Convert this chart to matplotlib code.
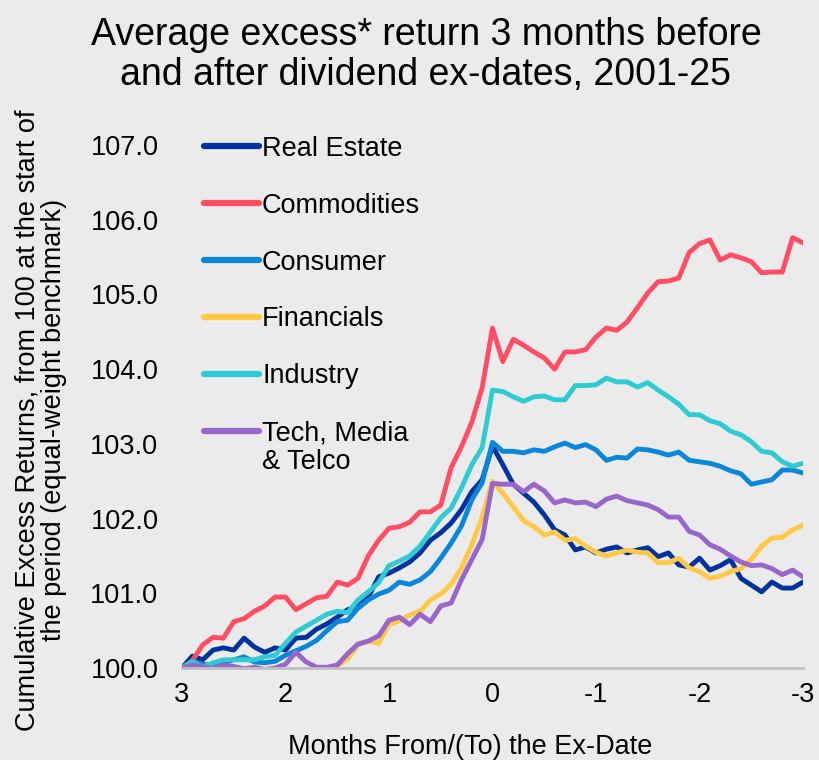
import numpy as np
import matplotlib
matplotlib.use("Agg")
import matplotlib.pyplot as plt

plt.rcParams['font.family'] = ['Liberation Sans', 'DejaVu Sans']

months = np.linspace(3, -3, 61)

real_estate = [100.0, 100.16, 100.11, 100.24, 100.27, 100.24, 100.40, 100.28, 100.21, 100.27,
               100.24, 100.40, 100.41, 100.52, 100.59, 100.68, 100.78, 100.82, 100.95, 101.22,
               101.27, 101.34, 101.42, 101.54, 101.71, 101.81, 101.94, 102.12, 102.36, 102.52,
               102.97,
               102.72, 102.46, 102.34, 102.22, 102.05, 101.85, 101.78, 101.58, 101.62, 101.54,
               101.59, 101.62, 101.54, 101.58, 101.61, 101.49, 101.54, 101.38, 101.35, 101.47,
               101.31, 101.37, 101.45, 101.20, 101.11, 101.02, 101.15, 101.07, 101.07, 101.15]

commodities = [100.0, 100.10, 100.31, 100.41, 100.40, 100.62, 100.66, 100.76, 100.83, 100.95,
               100.95, 100.78, 100.86, 100.94, 100.96, 101.15, 101.11, 101.20, 101.50, 101.71,
               101.87, 101.89, 101.95, 102.09, 102.09, 102.18, 102.68, 102.96, 103.29, 103.75,
               104.55,
               104.10, 104.40, 104.32, 104.23, 104.15, 104.00, 104.23, 104.23, 104.26, 104.43,
               104.55, 104.52, 104.63, 104.82, 105.02, 105.17, 105.18, 105.22, 105.56, 105.68,
               105.73, 105.46, 105.53, 105.49, 105.44, 105.29, 105.30, 105.30, 105.76, 105.69]

consumer = [100.0, 100.09, 100.05, 100.04, 100.07, 100.11, 100.15, 100.08, 100.07, 100.09,
            100.17, 100.23, 100.29, 100.37, 100.50, 100.62, 100.64, 100.80, 100.91, 100.99,
            101.04, 101.15, 101.12, 101.18, 101.29, 101.47, 101.67, 101.90, 102.25, 102.48,
            103.02,
            102.90, 102.90, 102.88, 102.92, 102.90, 102.96, 103.01, 102.95, 102.99, 102.92,
            102.78, 102.82, 102.81, 102.93, 102.92, 102.89, 102.85, 102.89, 102.78, 102.76,
            102.74, 102.70, 102.64, 102.60, 102.46, 102.49, 102.52, 102.65, 102.65, 102.61]

financials = [100.0, 99.98, 99.97, 100.0, 99.97, 99.96, 99.98, 99.96, 99.95, 99.97,
              99.96, 99.98, 99.95, 99.97, 100.0, 100.03, 100.12, 100.31, 100.36, 100.33,
              100.58, 100.63, 100.71, 100.76, 100.91, 100.99, 101.12, 101.34, 101.65, 102.02,
              102.50,
              102.34, 102.16, 101.97, 101.89, 101.78, 101.82, 101.71, 101.73, 101.63, 101.55,
              101.50, 101.54, 101.58, 101.55, 101.54, 101.41, 101.41, 101.47, 101.34, 101.29,
              101.20, 101.23, 101.29, 101.33, 101.45, 101.63, 101.74, 101.75, 101.85, 101.91]

industry = [100.0, 100.09, 100.01, 100.07, 100.11, 100.11, 100.11, 100.11, 100.15, 100.17,
            100.33, 100.48, 100.56, 100.64, 100.72, 100.76, 100.74, 100.91, 101.02, 101.14,
            101.37, 101.43, 101.50, 101.63, 101.82, 102.01, 102.14, 102.41, 102.72, 102.95,
            103.72,
            103.70, 103.63, 103.57, 103.63, 103.64, 103.59, 103.59, 103.78, 103.78, 103.79,
            103.88, 103.83, 103.83, 103.76, 103.82, 103.72, 103.63, 103.53, 103.39, 103.39,
            103.31, 103.27, 103.17, 103.12, 103.03, 102.90, 102.88, 102.76, 102.70, 102.74]

tech = [100.0, 100.04, 100.02, 99.99, 100.04, 100.02, 99.99, 100.01, 99.98, 100.0,
        100.05, 100.21, 100.08, 100.01, 100.01, 100.04, 100.19, 100.32, 100.36, 100.43,
        100.64, 100.68, 100.58, 100.72, 100.62, 100.83, 100.87, 101.18, 101.45, 101.72,
        102.47,
        102.46, 102.46, 102.36, 102.46, 102.37, 102.21, 102.25, 102.21, 102.22, 102.16,
        102.26, 102.30, 102.24, 102.21, 102.18, 102.12, 102.02, 102.02, 101.83, 101.78,
        101.65, 101.59, 101.50, 101.42, 101.37, 101.38, 101.33, 101.25, 101.31, 101.22]

labels = ["Real Estate", "Commodities", "Consumer", "Financials", "Industry", "Tech, Media"]
label_extra = "& Telco"
colors = ["#0033A0", "#FF4D64", "#0A87D8", "#FFC845", "#2ECBD3", "#9966CC"]
series = [real_estate, commodities, consumer, financials, industry, tech]

x_ticks = [3, 2, 1, 0, -1, -2, -3]
x_tick_labels = ["3", "2", "1", "0", "-1", "-2", "-3"]
y_ticks = [100, 101, 102, 103, 104, 105, 106, 107]

bg = "#EBEBEB"
fig = plt.figure(figsize=(8.19, 7.60), dpi=100, facecolor=bg)
ax = fig.add_axes([182/819, 92/760, (803-182)/819, (668-145)/760])
ax.set_facecolor(bg)

for vals, lab, col in zip(series, labels, colors):
    ax.plot(months, vals, color=col, lw=3.5, label=lab, solid_joinstyle='round', solid_capstyle='round')

ax.set_xlim(3, -3)
ax.set_ylim(100, 107)
ax.set_xticks(x_ticks)
ax.set_xticklabels(x_tick_labels)
ax.set_yticks(y_ticks)
ax.set_yticklabels([f"{v:.1f}" for v in y_ticks])
ax.tick_params(axis='both', length=0, labelsize=19.5, colors='#000000')
ax.tick_params(axis='y', pad=17)
ax.tick_params(axis='x', pad=10)

for s in ['top', 'right', 'left']:
    ax.spines[s].set_visible(False)
ax.spines['bottom'].set_color('#BFBFBF')
ax.spines['bottom'].set_linewidth(2)

ax.set_xlabel("Months From/(To) the Ex-Date", fontsize=19.5)
ax.xaxis.set_label_coords((470-182)/621, -(734-668)/523, transform=ax.transAxes)
ax.set_ylabel("Cumulative Excess Returns, from 100 at the start of\nthe period (equal-weight benchmark)",
              fontsize=19.5, linespacing=1.0)
ax.yaxis.set_label_coords(-(182-67)/621, (668-420)/523, transform=ax.transAxes)

fig.suptitle("Average excess* return 3 months before\nand after dividend ex-dates, 2001-25",
             fontsize=27, x=0.52, y=0.978, linespacing=1.15)

leg = ax.legend(loc='upper left', bbox_to_anchor=(193/819, 1 - 125/760), bbox_transform=fig.transFigure,
                frameon=False, fontsize=19.5, handlelength=2.05, handletextpad=0.1,
                labelspacing=1.14, borderaxespad=0)
for line in leg.get_lines():
    line.set_linewidth(4.5)

fig.canvas.draw()
renderer = fig.canvas.get_renderer()
last = leg.get_texts()[-1]
bb = last.get_window_extent(renderer)
fig.text(bb.x0 / fig.bbox.width, (bb.y0 - 16) / fig.bbox.height, label_extra,
         fontsize=19.5, ha='left', va='center')

fig.savefig("out.png", dpi=100, facecolor=bg)
